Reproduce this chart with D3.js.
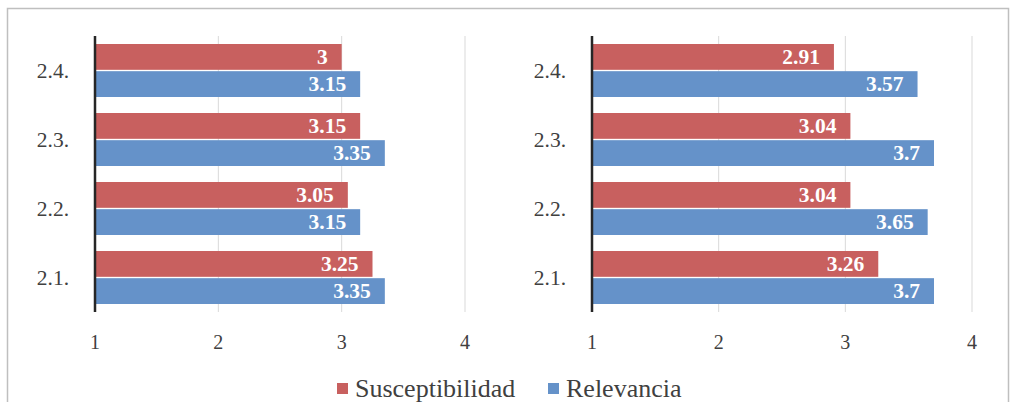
<!DOCTYPE html>
<html>
<head>
<meta charset="utf-8">
<script src="https://cdn.jsdelivr.net/npm/d3@7"></script>
</head>
<body style="margin:0">
<script>
// categories top to bottom as drawn
var categories = ["2.4.", "2.3.", "2.2.", "2.1."];
var seriesNames = ["Susceptibilidad", "Relevancia"];
var colors = ["#c8605f", "#6592c9"];
var xTicks = [1, 2, 3, 4];

// left panel
var leftSusceptibilidad = [3, 3.15, 3.05, 3.25];
var leftRelevancia = [3.15, 3.35, 3.15, 3.35];
// right panel
var rightSusceptibilidad = [2.91, 3.04, 3.04, 3.26];
var rightRelevancia = [3.57, 3.7, 3.65, 3.7];

var serif = "'Liberation Serif'";

var svg = d3.select("body").append("svg")
    .attr("width", 1013)
    .attr("height", 402)
    .style("font-family", serif);

// outer frame
svg.append("rect")
    .attr("x", 7.5).attr("y", 8.5)
    .attr("width", 1001).attr("height", 420)
    .attr("fill", "none")
    .attr("stroke", "#bfbfbf")
    .attr("stroke-width", 1.5);

function drawPanel(x0, x4, susc, rel) {
    var x = d3.scaleLinear().domain([1, 4]).range([x0, x4]);
    var y = d3.scaleBand().domain(categories).range([36, 312])
        .paddingInner(0.232).paddingOuter(0.116);
    var sub = d3.scaleBand().domain([0, 1]).range([0, y.bandwidth()]).paddingInner(0.05);

    // gridlines
    svg.selectAll(null).data(xTicks.slice(1)).enter().append("line")
        .attr("x1", function(d) { return x(d); })
        .attr("x2", function(d) { return x(d); })
        .attr("y1", 36).attr("y2", 312)
        .attr("stroke", "#d9d9d9").attr("stroke-width", 1);

    var rows = categories.map(function(c, i) {
        return { cat: c, vals: [susc[i], rel[i]] };
    });

    rows.forEach(function(r) {
        r.vals.forEach(function(v, k) {
            svg.append("rect")
                .attr("x", x(1))
                .attr("y", y(r.cat) + sub(k))
                .attr("width", x(v) - x(1))
                .attr("height", sub.bandwidth())
                .attr("fill", colors[k]);
            svg.append("text")
                .attr("x", x(v) - 14)
                .attr("y", y(r.cat) + sub(k) + sub.bandwidth() / 2 + 7)
                .attr("text-anchor", "end")
                .attr("fill", "#fff")
                .style("font-family", serif)
                .style("font-weight", "bold")
                .style("font-size", "21.5px")
                .text(v);
        });
    });

    // vertical axis line
    svg.append("line")
        .attr("x1", x(1)).attr("x2", x(1))
        .attr("y1", 36).attr("y2", 312)
        .attr("stroke", "#262626").attr("stroke-width", 2.5);

    // category labels, placed with the band scale
    categories.forEach(function(c) {
        svg.append("text")
            .attr("x", x(1) - 26)
            .attr("y", y(c) + y.bandwidth() / 2 + 7)
            .attr("text-anchor", "end")
            .attr("fill", "#404040")
            .style("font-family", serif)
            .style("font-size", "21.5px")
            .text(c);
    });

    // x tick labels
    xTicks.forEach(function(t) {
        svg.append("text")
            .attr("x", x(t))
            .attr("y", 349)
            .attr("text-anchor", "middle")
            .attr("fill", "#404040")
            .style("font-family", serif)
            .style("font-size", "20px")
            .text(t);
    });
}

drawPanel(95, 465, leftSusceptibilidad, leftRelevancia);
drawPanel(592, 972, rightSusceptibilidad, rightRelevancia);

// legend
var legendX = [337, 548];
seriesNames.forEach(function(name, i) {
    svg.append("rect")
        .attr("x", legendX[i]).attr("y", 383)
        .attr("width", 11).attr("height", 11)
        .attr("fill", colors[i]);
    svg.append("text")
        .attr("x", legendX[i] + 18).attr("y", 397)
        .style("font-family", serif)
        .style("font-size", "26px")
        .attr("fill", "#404040")
        .text(name);
});
</script>
</body>
</html>
